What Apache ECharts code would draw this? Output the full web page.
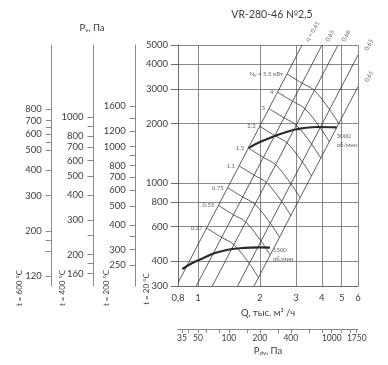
<!DOCTYPE html>
<html><head><meta charset="utf-8">
<script src="https://cdn.jsdelivr.net/npm/echarts@6/dist/echarts.min.js"></script>
<style>html,body{margin:0;padding:0;background:#fff}#c{width:388px;height:365px}</style>
</head><body><div id="c"></div>
<script>
// ---- tick labels ----
const qTicks = [0.8, 1, 2, 3, 4, 5, 6];
const p20Ticks = [300, 400, 600, 800, 1000, 2000, 3000, 4000, 5000];
const p200Labels = [250, 300, 400, 500, 600, 700, 800, 1000, 1200, 1600];
const p200Ticks = [250, 300, 350, 400, 500, 600, 700, 800, 900, 1000, 1200, 1400, 1600];
const p400Labels = [160, 200, 300, 400, 500, 600, 700, 800, 1000];
const p400Ticks = [160, 180, 200, 250, 300, 400, 500, 600, 700, 800, 900, 1000];
const p600Labels = [120, 200, 300, 400, 500, 600, 700, 800];
const p600Ticks = [120, 160, 180, 200, 300, 400, 500, 550, 600, 650, 700, 800];
const pdvLabels = [35, 50, 100, 200, 400, 1000, 1750];
const pdvTicks = [35, 40, 50, 60, 80, 100, 150, 200, 300, 400, 600, 800, 1000, 1250, 1500, 1750];
const tempNames = ['t = 600 °C', 't = 400 °C', 't = 200 °C', 't = 20 °C'];

// ---- fan curves (Q, тыс. м³/ч ; P, Па) ----
const rpm3000Q = [1.76, 2.0, 2.33, 2.65, 3.02, 3.78, 4.73];
const rpm3000P = [1500, 1610, 1720, 1800, 1870, 1920, 1910];
const rpm1500Q = [0.84, 0.93, 1.06, 1.2, 1.4, 1.6, 1.8, 2.0, 2.24];
const rpm1500P = [366, 390, 415, 440, 458, 466, 470, 471, 470];

// ---- efficiency lines (end points) ----
const etaNames = ['η = 0.61', '0.65', '0.68', '0.65', '0.61'];
const etaQ = [[0.8, 3.21], [0.982, 4.01], [1.175, 4.80], [1.559, 6], [1.874, 6]];
const etaP = [[311, 5000], [300, 5000], [300, 5000], [300, 4446], [300, 3074]];

// ---- power lines N, кВт ----
const powerNames = ['0.37', '0.55', '0.75', '1.1', '1.5', '2.2', '3', '4', '5.5'];
const powerQ = [
  [1.102, 1.305, 1.496, 1.776, 1.968],
  [1.258, 1.489, 1.707, 2.027, 2.245],
  [1.395, 1.651, 1.893, 2.248, 2.490],
  [1.585, 1.876, 2.151, 2.554, 2.829],
  [1.757, 2.081, 2.385, 2.831, 3.137],
  [1.996, 2.364, 2.710, 3.217, 3.565],
  [2.214, 2.621, 3.005, 3.568, 3.953],
  [2.436, 2.885, 3.308, 3.927, 4.351],
  [2.710, 3.208, 3.679, 4.367, 4.838]
];
const powerP = [
  [590, 529, 486, 390, 331],
  [769, 689, 633, 507, 431],
  [945, 848, 779, 624, 530],
  [1220, 1095, 1005, 805, 683],
  [1500, 1346, 1236, 990, 841],
  [1937, 1737, 1596, 1278, 1085],
  [2381, 2137, 1963, 1572, 1335],
  [2885, 2589, 2378, 1905, 1617],
  [3568, 3201, 2941, 2355, 1999]
];

const FONT = 'Lato, "Open Sans", sans-serif';
const TXT = '#3c3c3c';
const GRID = '#6a6a6a';
const MESH = '#333';
const fmtNum = v => String(Math.round(v * 100) / 100);

const chart = echarts.init(document.getElementById('c'));

function sideAxis(offset, min, max, labels, ticks) {
  return {
    type: 'log', logBase: 10, gridIndex: 0, position: 'left', offset, min, max,
    axisLine: {show: true, lineStyle: {color: '#8a8a8a', width: 1}},
    axisTick: {show: true, inside: false, length: 6, customValues: ticks, lineStyle: {color: '#8a8a8a'}},
    axisLabel: {show: true, margin: 10, customValues: labels, formatter: fmtNum, color: TXT, fontFamily: FONT, fontSize: 9.5},
    splitLine: {show: false}, minorTick: {show: false}
  };
}

const series = [];
etaQ.forEach((qs, i) => {
  series.push({type: 'line', xAxisIndex: 0, yAxisIndex: 0, symbol: 'none', silent: true,
    data: qs.map((q, j) => [q, etaP[i][j]]), lineStyle: {color: MESH, width: 0.8}});
});
powerQ.forEach((qs, i) => {
  series.push({type: 'line', xAxisIndex: 0, yAxisIndex: 0, symbol: 'none', silent: true, smooth: 0.35,
    data: qs.map((q, j) => [q, powerP[i][j]]), lineStyle: {color: MESH, width: 0.8}});
});
series.push({type: 'line', xAxisIndex: 0, yAxisIndex: 0, symbol: 'none', silent: true, smooth: 0.4,
  data: rpm3000Q.map((q, i) => [q, rpm3000P[i]]), lineStyle: {color: '#2a2a2a', width: 2.2}});
series.push({type: 'line', xAxisIndex: 0, yAxisIndex: 0, symbol: 'none', silent: true, smooth: 0.4,
  data: rpm1500Q.map((q, i) => [q, rpm1500P[i]]), lineStyle: {color: '#2a2a2a', width: 2.2}});

const smallLbl = {color: TXT, fontFamily: FONT, fontSize: 6};
// power labels
series.push({type: 'scatter', xAxisIndex: 0, yAxisIndex: 0, symbolSize: 0.1, clip: false, silent: true,
  itemStyle: {color: 'rgba(0,0,0,0)'},
  data: powerQ.map((qs, i) => ({value: [qs[0], powerP[i][0]], name: powerNames[i]})),
  label: Object.assign({show: true, position: 'left', distance: 4,
    formatter: p => p.dataIndex === powerNames.length - 1 ? 'N{s|у} = ' + p.name + ' кВт' : p.name,
    rich: {s: {fontSize: 4.5, verticalAlign: 'bottom', color: TXT, fontFamily: FONT}}}, smallLbl)});
// eta labels
series.push({type: 'scatter', xAxisIndex: 0, yAxisIndex: 0, symbolSize: 0.1, clip: false, silent: true,
  itemStyle: {color: 'rgba(0,0,0,0)'},
  data: etaQ.map((qs, i) => ({value: [qs[1], etaP[i][1]], name: etaNames[i],
    label: {position: i < 3 ? [5, -4] : [8, -5]}})),
  label: Object.assign({show: true, rotate: 60, align: 'left', verticalAlign: 'middle', formatter: p => p.name}, smallLbl)});
// rpm labels
series.push({type: 'scatter', xAxisIndex: 0, yAxisIndex: 0, symbolSize: 0.1, clip: false, silent: true,
  itemStyle: {color: 'rgba(0,0,0,0)'},
  data: [
    {value: [rpm3000Q[rpm3000Q.length - 1], rpm3000P[rpm3000P.length - 1]], name: '3000\nоб/мин', label: {position: [0, 4]}},
    {value: [rpm1500Q[rpm1500Q.length - 1], rpm1500P[rpm1500P.length - 1]], name: '1500\nоб/мин', label: {position: [3, -2]}}
  ],
  label: Object.assign({show: true, align: 'left', verticalAlign: 'top', lineHeight: 9, formatter: p => p.name}, smallLbl)});

const option = {
  animation: false,
  backgroundColor: '#fff',
  grid: [
    {left: 178, top: 45, width: 180, height: 241},
    {left: 178, top: 300, width: 180, height: 29}
  ],
  xAxis: [
    {type: 'log', logBase: 10, gridIndex: 0, min: 0.8, max: 6, position: 'bottom',
      name: 'Q, тыс. м³ /ч', nameLocation: 'middle', nameGap: 21,
      nameTextStyle: {color: TXT, fontFamily: FONT, fontSize: 9.5},
      axisLine: {show: true, lineStyle: {color: GRID}},
      axisTick: {show: false, customValues: qTicks},
      axisLabel: {customValues: qTicks, margin: 7, color: TXT, fontFamily: FONT, fontSize: 9.5,
        formatter: v => fmtNum(v).replace('.', ',')},
      splitLine: {show: true, lineStyle: {color: GRID, width: 0.8}}, minorTick: {show: false}},
    {type: 'log', logBase: 10, gridIndex: 1, min: 32, max: 1800, position: 'bottom',
      name: 'P{s|dv}, Па', nameLocation: 'middle', nameGap: 17,
      nameTextStyle: {color: TXT, fontFamily: FONT, fontSize: 9.5,
        rich: {s: {fontSize: 6, verticalAlign: 'bottom', color: TXT, fontFamily: FONT}}},
      axisLine: {show: true, lineStyle: {color: '#8a8a8a'}},
      axisTick: {show: true, length: 4, customValues: pdvTicks, lineStyle: {color: '#8a8a8a'}},
      axisLabel: {customValues: pdvLabels, margin: 5, color: TXT, fontFamily: FONT, fontSize: 8.5, formatter: fmtNum},
      splitLine: {show: false}, minorTick: {show: false}}
  ],
  yAxis: [
    {type: 'log', logBase: 10, gridIndex: 0, position: 'left', min: 300, max: 5000,
      axisLine: {show: true, lineStyle: {color: GRID}},
      axisTick: {show: true, length: 7, customValues: p20Ticks, lineStyle: {color: GRID}},
      axisLabel: {customValues: p20Ticks, margin: 10, formatter: fmtNum, color: TXT, fontFamily: FONT, fontSize: 9.5},
      splitLine: {show: true, lineStyle: {color: GRID, width: 0.8}}, minorTick: {show: false}},
    sideAxis(42.3, 196.2, 3276, p200Labels, p200Ticks),
    sideAxis(84.5, 138.3, 2317, p400Labels, p400Ticks),
    sideAxis(126.3, 107.5, 1652, p600Labels, p600Ticks),
    {type: 'value', gridIndex: 1, show: false}
  ],
  graphic: [
    {type: 'text', x: 272, y: 15, style: {text: 'VR-280-46 №2,5', fill: TXT, font: '10.5px ' + FONT, align: 'center', verticalAlign: 'middle'}},
    {type: 'text', x: 92, y: 28, style: {text: 'P{s|v}, Па', fill: TXT, font: '9.5px ' + FONT, align: 'center', verticalAlign: 'middle',
      rich: {s: {fontSize: 6, verticalAlign: 'bottom', fill: TXT, fontFamily: FONT}}}},
    {type: 'text', x: 19, y: 288, rotation: Math.PI / 2, style: {text: tempNames[0], fill: TXT, font: '8px ' + FONT, align: 'center', verticalAlign: 'middle'}},
    {type: 'text', x: 62, y: 288, rotation: Math.PI / 2, style: {text: tempNames[1], fill: TXT, font: '8px ' + FONT, align: 'center', verticalAlign: 'middle'}},
    {type: 'text', x: 106, y: 288, rotation: Math.PI / 2, style: {text: tempNames[2], fill: TXT, font: '8px ' + FONT, align: 'center', verticalAlign: 'middle'}},
    {type: 'text', x: 146, y: 289, rotation: Math.PI / 2, style: {text: tempNames[3], fill: TXT, font: '8px ' + FONT, align: 'center', verticalAlign: 'middle'}}
  ],
  series
};
chart.setOption(option);
</script></body></html>
